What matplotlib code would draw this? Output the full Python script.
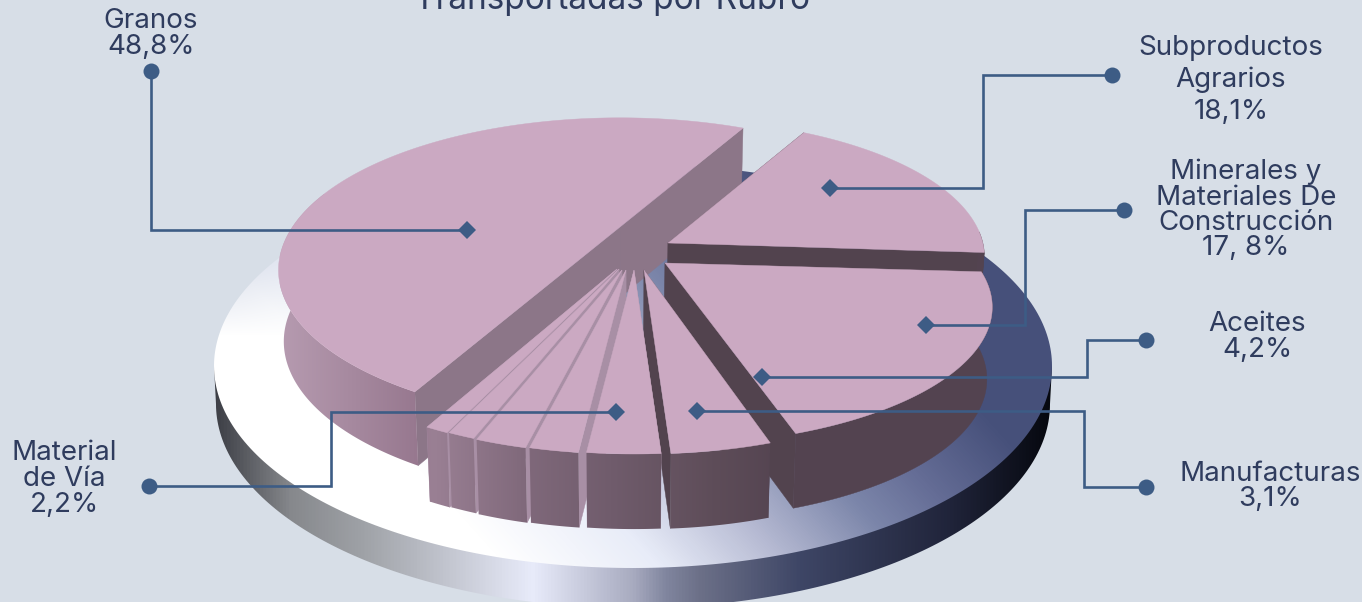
import numpy as np
import matplotlib
matplotlib.use("Agg")
import matplotlib.pyplot as plt
from matplotlib.colors import LinearSegmentedColormap
from matplotlib.patches import Polygon

# shares as they look in the drawing (the printed labels differ a bit)
slice_names = ["Subproductos", "Minerales", "Manufacturas", "Via", "Otros 1",
               "Otros 2", "Otros 3", "Otros 4", "Hueco", "Granos"]
slice_shares = [18.33, 19.17, 3.75, 2.69, 1.81, 1.92, 1.03, 0.89, 0.42, 50.0]

label_lines = [["Granos", "48,8%"],
               ["Subproductos", "Agrarios", "18,1%"],
               ["Minerales y", "Materiales De", "Construcción", "17, 8%"],
               ["Aceites", "4,2%"],
               ["Manufacturas", "3,1%"],
               ["Material", "de Vía", "2,2%"]]
title_text = "Transportadas por Rubro"

# placement of the labels and leader lines, pixels
label_x = [151, 1231, 1246, 1257, 1270, 64]
label_y = [[21, 47], [48, 80, 112], [172, 198, 223, 248], [324, 350], [474, 499], [453, 479, 505]]
leader_paths = [[(151, 71), (151, 230), (467, 230)],
                [(1112, 75), (983, 75), (983, 188), (830, 188)],
                [(1124, 210), (1025, 210), (1025, 325), (926, 325)],
                [(1146, 340), (1087, 340), (1087, 377), (762, 377)],
                [(1146, 487), (1084, 487), (1084, 411), (697, 411)],
                [(149, 486), (331, 486), (331, 412), (616, 412)]]

# slice style: pixel offset of the apex, x and y size factors, perspective, cut face colour
offsets = {"Granos": (-12, -41), "Subproductos": (36, -25), "Minerales": (33, -5),
           "Manufacturas": (12, 2), "Via": (2, 2), "Otros 1": (-6, 2),
           "Otros 2": (-10, 2), "Otros 3": (-13, 1), "Otros 4": (-15, 1)}
scales = {"Granos": (1.03, 1.03), "Subproductos": (0.99, 1.0), "Minerales": (0.975, 0.91),
          "Manufacturas": (0.99, 0.97), "Via": (1.0, 0.97), "Otros 1": (1.0, 0.97),
          "Otros 2": (1.0, 0.97), "Otros 3": (1.0, 0.97), "Otros 4": (1.0, 0.97)}
tilts = {"Subproductos": 0.10, "Minerales": 0.32}
cut_colors = {"Granos": "#8c7688", "Subproductos": "#52434e", "Minerales": "#52434e",
              "Manufacturas": "#52434e"}
draw_order = ["Granos", "Subproductos", "Minerales", "Manufacturas", "Otros 4",
              "Otros 3", "Otros 2", "Otros 1", "Via"]

BG = "#d7dee7"
TOP = "#cba9c2"
INK = "#2f3c5e"
LINE = "#3d5c85"
CX, CY = 632, 268
SX, SY, K = 318, 136, 0.283
START = 28.0

wall_cmap = LinearSegmentedColormap.from_list("wall", [
    (0.0, "#b69bb0"), (0.27, "#97788f"), (0.30, "#9a8094"), (0.48, "#80697b"),
    (0.65, "#705c6c"), (0.85, "#5e4d59"), (1.0, "#534350")])
rim_cmap = LinearSegmentedColormap.from_list("rim", [
    (0.0, "#3c3e45"), (0.09, "#86888c"), (0.18, "#a0a3a8"), (0.26, "#bcbfc8"),
    (0.38, "#e8ebfa"), (0.50, "#a8abc0"), (0.54, "#80859e"), (0.58, "#6c7088"),
    (0.70, "#3e4666"), (0.88, "#20243a"), (1.0, "#06080f")])
disc_cmap = LinearSegmentedColormap.from_list("disc", [
    (0.0, "#ffffff"), (0.25, "#e8ecf8"), (0.45, "#b8bcd4"), (0.66, "#7c86aa"),
    (0.80, "#656d96"), (1.0, "#46507a")])


def project(theta, sx=1.0, sy=1.0, k=K):
    # point on the pie rim, theta clockwise from the far side
    c = np.cos(np.radians(theta))
    s = np.sin(np.radians(theta))
    w = 1 + k * c
    return sx * SX * s / w, -sy * SY * c / w


def drop(pts):
    # same points on the underside of the pie
    pts = np.asarray(pts, dtype=float)
    return np.column_stack([CX + (pts[:, 0] - CX) * 0.985, pts[:, 1] + 72 + 0.02 * (pts[:, 1] - 300)])


def fill_gradient(ax, pts, cmap, x0, x1, z):
    grad = np.linspace(0, 1, 512)[None, :]
    im = ax.imshow(grad, cmap=cmap, extent=(x0, x1, 602, 0), aspect="auto", zorder=z,
                   vmin=0, vmax=1)
    patch = Polygon(np.asarray(pts), closed=True, transform=ax.transData, fc="none", ec="none")
    ax.add_patch(patch)
    im.set_clip_path(patch)


plt.rcParams["font.family"] = ["Inter", "DejaVu Sans"]
fig = plt.figure(figsize=(13.62, 6.02), dpi=100, facecolor=BG)
ax = fig.add_axes([0, 0, 1, 1])
ax.set_facecolor(BG)

# base disc: rim first, then its top face with a diagonal shade
t = np.radians(np.linspace(0, 360, 361))
rim = np.column_stack([633 + 419 * np.cos(t), 366 + 202 * np.sin(t)])
half = t <= np.pi
rim_low = np.column_stack([633 + 417 * np.cos(t[half]), 404 + 204 * np.sin(t[half])])
rim_side = np.column_stack([633 + 419 * np.cos(t[half]), 366 + 0 * t[half]])
fill_gradient(ax, np.vstack([rim_low, rim_side[::-1]]), rim_cmap, 214, 1052, 1)

xx, yy = np.meshgrid(np.arange(200, 1070), np.arange(150, 602))
shade = np.clip(((xx - 480) + 0.9 * (540 - yy)) / 620.0, 0, 1)
rgba = disc_cmap(shade)
tint = np.clip((335 - yy) / 120.0, 0, 1) * np.clip((380 - xx) / 150.0, 0, 1)
tint_rgb = np.array(matplotlib.colors.to_rgb("#c3cbdf"))
rgba[..., :3] = rgba[..., :3] * (1 - tint[..., None]) + tint_rgb * tint[..., None]
disc_im = ax.imshow(rgba, extent=(200, 1070, 602, 150), aspect="auto", zorder=2)
disc_patch = Polygon(rim, closed=True, fc="none", ec="none")
ax.add_patch(disc_patch)
disc_im.set_clip_path(disc_patch)

# wedges from the shares
angles = START + 360.0 * np.cumsum([0] + slice_shares) / np.sum(slice_shares)
spans = {name: (angles[i], angles[i + 1]) for i, name in enumerate(slice_names)}

z = 3
for name in draw_order:
    a0, a1 = spans[name]
    dx, dy = offsets[name]
    sx, sy = scales[name]
    k = tilts.get(name, K)
    apex = np.array([CX + dx, CY + dy], dtype=float)
    thetas = np.linspace(a0, a1, max(int(a1 - a0) * 2, 8))
    px, py = project(thetas, sx, sy, k)
    arc = np.column_stack([apex[0] + px, apex[1] + py])
    cut = cut_colors.get(name, "#a88fa5")
    # cut faces
    for end in (arc[0], arc[-1]):
        quad = np.array([apex, end])
        ax.add_patch(Polygon(np.vstack([quad, drop(quad)[::-1]]), closed=True, fc=cut, ec=cut,
                             lw=0.3, zorder=z))
    z += 1
    # outer wall, only the side that faces the viewer
    front = arc[(thetas % 360 > 85) & (thetas % 360 < 285)]
    if name in ("Subproductos", "Minerales"):
        ax.add_patch(Polygon(np.vstack([front, drop(front)[::-1]]), closed=True, fc="#534350",
                             ec="#534350", lw=0.3, zorder=z))
    else:
        fill_gradient(ax, np.vstack([front, drop(front)[::-1]]), wall_cmap, 280, 790, z)
    z += 1
    ax.add_patch(Polygon(np.vstack([apex, arc]), closed=True, fc=TOP, ec=TOP, lw=0.3, zorder=z))
    z += 1

# leader lines
for path in leader_paths:
    xs = [p[0] for p in path]
    ys = [p[1] for p in path]
    ax.plot(xs, ys, color=LINE, lw=1.9, solid_joinstyle="miter", zorder=z)
    ax.plot(xs[0], ys[0], "o", color=LINE, ms=11.5, mew=0, zorder=z + 1)
    ax.plot(xs[-1], ys[-1], "D", color=LINE, ms=9, mew=0, zorder=z + 1)

# labels
for lines, x, ys in zip(label_lines, label_x, label_y):
    for line, y in zip(lines, ys):
        ax.text(x, y, line, color=INK, fontsize=20, ha="center", va="center", zorder=z + 2)
ax.text(612, 0, title_text, color=INK, fontsize=24, ha="center", va="center", zorder=z + 2)

ax.set_xlim(0, 1362)
ax.set_ylim(602, 0)
ax.axis("off")
fig.savefig("out.png", dpi=100, facecolor=BG)
